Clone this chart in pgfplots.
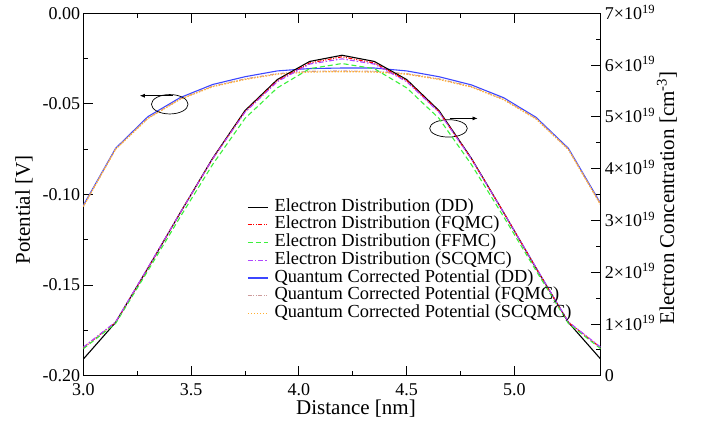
\documentclass[border=0pt]{standalone}
\usepackage{fontspec}
\setmainfont{Liberation Serif}
\usepackage{pgfplots}
\pgfplotsset{compat=1.18}
\usetikzlibrary{arrows.meta}

\definecolor{cgreen}{RGB}{60,240,60}
\definecolor{cpurple}{RGB}{176,70,255}
\definecolor{cblue}{RGB}{60,70,255}
\definecolor{crosy}{RGB}{205,155,155}
\definecolor{corange}{RGB}{255,175,50}

\tikzset{
  sDD/.style={black, solid, line width=1.1pt},
  sFQ/.style={red, line width=1.1pt, dash pattern=on 4pt off 1.5pt on 1pt off 1.5pt on 1pt off 1.5pt},
  sFF/.style={cgreen, line width=1.1pt, dash pattern=on 5pt off 3pt},
  sSC/.style={cpurple, line width=1.1pt, dash pattern=on 5pt off 2pt on 1.5pt off 2pt},
  pDD/.style={cblue, solid, line width=1.1pt},
  pFQ/.style={crosy, line width=1.1pt, dash pattern=on 4pt off 1.5pt on 1pt off 1.5pt on 1pt off 1.5pt},
  pSC/.style={corange, line width=1.2pt, dash pattern=on 1.5pt off 1.5pt},
}

\pgfplotsset{
  common/.style={
    scale only axis, width=517.4pt, height=362.4pt,
    at={(83.3pt,47.3pt)}, anchor=south west,
    xmin=3.0, xmax=5.4,
    tick align=inside,
    major tick length=10pt, minor tick length=5pt,
    every tick/.style={black, line width=0.8pt},
    axis line style={line width=0.9pt},
    tick label style={font=\fontsize{18}{18}\selectfont},
    label style={font=\fontsize{21}{21}\selectfont},
  }
}

\begin{document}
\begin{tikzpicture}
\path[use as bounding box] (0pt,0pt) rectangle (703pt,423pt);

% left axis: potential
\begin{axis}[
  common,
  ymin=-0.2, ymax=0,
  ytick pos=left,
  xtick={3,3.5,4,4.5,5},
  xticklabels={3.0,3.5,4.0,4.5,5.0},
  minor x tick num=1,
  ytick={-0.2,-0.15,-0.1,-0.05,0},
  yticklabels={-0.20,-0.15,-0.10,-0.05,0.00},
  minor y tick num=1,
  xticklabel style={anchor=base, yshift=-19.5pt},
  yticklabel style={anchor=east, inner sep=0pt, xshift=-3pt},
  xlabel={Distance [nm]},
  ylabel={Potential [V]},
  xlabel style={at={(axis description cs:0.527,-0.091)}, anchor=center},
  ylabel style={at={(axis description cs:-0.1147,0.457)}, anchor=center},
]
% Quantum Corrected Potential (DD)
\addplot[pDD] coordinates {
  (3.00,-0.106)(3.15,-0.0745)(3.30,-0.0570)(3.45,-0.0465)(3.60,-0.0393)
  (3.75,-0.0350)(3.90,-0.0318)(4.05,-0.0305)(4.20,-0.0302)(4.35,-0.0302)
  (4.50,-0.0318)(4.65,-0.0350)(4.80,-0.0395)(4.95,-0.0466)(5.10,-0.0574)
  (5.25,-0.0745)(5.40,-0.1050)
};
% Quantum Corrected Potential (FQMC)
\addplot[pFQ] coordinates {
  (3.00,-0.1065)(3.15,-0.0748)(3.30,-0.0578)(3.45,-0.0472)(3.60,-0.0402)
  (3.75,-0.0362)(3.90,-0.0333)(4.05,-0.0320)(4.20,-0.0318)(4.35,-0.0320)
  (4.50,-0.0333)(4.65,-0.0362)(4.80,-0.0404)(4.95,-0.0474)(5.10,-0.0580)
  (5.25,-0.0750)(5.40,-0.1055)
};
% Quantum Corrected Potential (SCQMC)
\addplot[pSC] coordinates {
  (3.00,-0.1067)(3.15,-0.0750)(3.30,-0.0580)(3.45,-0.0474)(3.60,-0.0405)
  (3.75,-0.0365)(3.90,-0.0336)(4.05,-0.0324)(4.20,-0.0322)(4.35,-0.0324)
  (4.50,-0.0336)(4.65,-0.0365)(4.80,-0.0407)(4.95,-0.0477)(5.10,-0.0583)
  (5.25,-0.0752)(5.40,-0.1058)
};
% annotations
\draw[line width=0.7pt] (axis cs:3.401,-0.0502) ellipse [x radius=18.3pt, y radius=9.7pt];
\draw[line width=0.7pt,-{Latex[length=5pt,width=4pt]}] (axis cs:3.416,-0.0455) -- (axis cs:3.262,-0.0455);
\draw[line width=0.7pt] (axis cs:4.694,-0.0635) ellipse [x radius=18.8pt, y radius=8.7pt];
\draw[line width=0.7pt,-{Latex[length=5pt,width=4pt]}] (axis cs:4.699,-0.058) -- (axis cs:4.829,-0.058);
\end{axis}

% right axis: electron concentration
\begin{axis}[
  common,
  axis x line=none,
  axis y line*=right,
  ymin=0, ymax=7,
  ytick={0,1,2,3,4,5,6,7},
  yticklabels={0,1×10\textsuperscript{19},2×10\textsuperscript{19},3×10\textsuperscript{19},4×10\textsuperscript{19},5×10\textsuperscript{19},6×10\textsuperscript{19},7×10\textsuperscript{19}},
  minor y tick num=1,
  yticklabel style={anchor=base west, inner sep=0pt, xshift=4pt, yshift=-6.1pt},
  ylabel={Electron Concentration [cm\textsuperscript{-3}]},
  ylabel style={at={(axis description cs:1.128,0.49)}, anchor=center},
  legend style={at={(axis description cs:0.3166,0.4876)}, anchor=north west,
    draw=none, fill=none, font=\fontsize{18.4}{18.4}\selectfont,
    inner sep=0pt, row sep=1.7pt, column sep=6pt,
    nodes={inner sep=0pt, text height=12pt, text depth=4pt}},
  legend cell align=left,
  legend image code/.code={\draw[#1] (0pt,0pt) -- (20pt,0pt);},
]
% Electron Distribution (DD)
\addplot[sDD] coordinates {
  (3.00,0.32)(3.15,1.03)(3.30,2.08)(3.45,3.15)(3.60,4.20)(3.75,5.12)
  (3.90,5.72)(4.05,6.07)(4.20,6.19)(4.35,6.07)(4.50,5.72)(4.65,5.12)
  (4.80,4.20)(4.95,3.15)(5.10,2.08)(5.25,1.03)(5.40,0.32)
};
\addlegendentry{Electron Distribution (DD)}
% Electron Distribution (FQMC)
\addplot[sFQ] coordinates {
  (3.00,0.54)(3.15,1.03)(3.30,2.08)(3.45,3.15)(3.60,4.19)(3.75,5.10)
  (3.90,5.70)(4.05,6.04)(4.20,6.16)(4.35,6.04)(4.50,5.70)(4.65,5.10)
  (4.80,4.19)(4.95,3.15)(5.10,2.08)(5.25,1.03)(5.40,0.54)
};
\addlegendentry{Electron Distribution (FQMC)}
% Electron Distribution (FFMC)
\addplot[sFF] coordinates {
  (3.00,0.52)(3.15,1.01)(3.30,2.03)(3.45,3.07)(3.60,4.08)(3.75,4.97)
  (3.90,5.56)(4.05,5.93)(4.20,6.03)(4.35,5.93)(4.50,5.56)(4.65,4.97)
  (4.80,4.08)(4.95,3.07)(5.10,2.03)(5.25,1.01)(5.40,0.52)
};
\addlegendentry{Electron Distribution (FFMC)}
% Electron Distribution (SCQMC)
\addplot[sSC] coordinates {
  (3.00,0.55)(3.15,1.04)(3.30,2.09)(3.45,3.15)(3.60,4.19)(3.75,5.09)
  (3.90,5.68)(4.05,6.02)(4.20,6.12)(4.35,6.02)(4.50,5.68)(4.65,5.09)
  (4.80,4.19)(4.95,3.15)(5.10,2.09)(5.25,1.04)(5.40,0.55)
};
\addlegendentry{Electron Distribution (SCQMC)}
\addlegendimage{pDD}
\addlegendentry{Quantum Corrected Potential (DD)}
\addlegendimage{pFQ}
\addlegendentry{Quantum Corrected Potential (FQMC)}
\addlegendimage{pSC}
\addlegendentry{Quantum Corrected Potential (SCQMC)}
\end{axis}
\end{tikzpicture}
\end{document}
